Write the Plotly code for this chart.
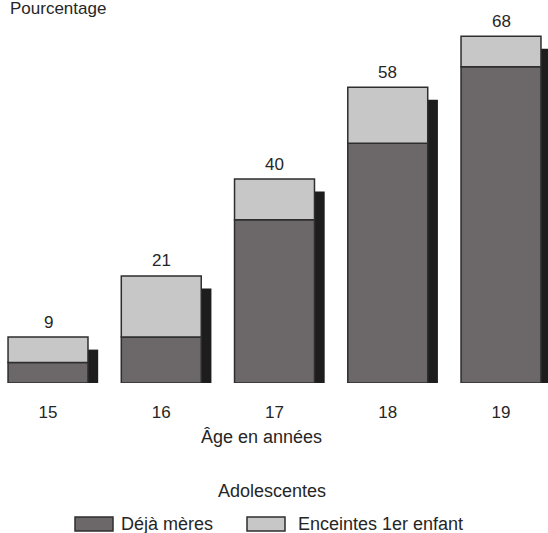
import plotly.graph_objects as go

# Pourcentage d'adolescentes déjà mères ou enceintes de leur premier enfant, par âge
ages = ["15", "16", "17", "18", "19"]
deja_meres = [4, 9, 32, 47, 62]
enceintes = [5, 12, 8, 11, 6]
totaux = [9, 21, 40, 58, 68]

FONT = "Liberation Sans, Arial, Helvetica, sans-serif"
TXT = "#262626"
C_MERES = "#6c6768"
C_ENC = "#c7c7c7"
C_OMBRE = "#1d1d1d"
C_BORD = "#2e2e2e"

BAR_W = 0.706
SHADOW_W = 0.10
SHADOW_DROP = 2.45

fig = go.Figure()

# drop shadow behind each column
fig.add_trace(go.Bar(
    x=ages, y=[t - SHADOW_DROP for t in totaux], base=0,
    width=SHADOW_W, offset=BAR_W / 2 - 0.01,
    marker=dict(color=C_OMBRE, line=dict(width=0)),
    hoverinfo="skip", showlegend=False,
))
fig.add_trace(go.Bar(
    x=ages, y=deja_meres, base=0, name="Déjà mères",
    width=BAR_W,
    marker=dict(color=C_MERES, line=dict(color=C_BORD, width=1.5)),
    showlegend=False,
))
fig.add_trace(go.Bar(
    x=ages, y=enceintes, base=deja_meres, name="Enceintes 1er enfant",
    width=BAR_W,
    marker=dict(color=C_ENC, line=dict(color=C_BORD, width=1.5)),
    showlegend=False,
))

# total value above each column (category index as x position)
annotations = []
for i, t in enumerate(totaux):
    annotations.append(dict(
        x=i, y=t, xref="x", yref="y", text=str(t), showarrow=False,
        yanchor="middle", yshift=15, font=dict(size=17, color=TXT, family=FONT),
    ))

W, H = 548, 533
TOP, BASE = 20, 383


def px(xp):
    return xp / W


def py(yp):
    return (BASE - yp) / (BASE - TOP)


annotations += [
    dict(x=px(8), y=py(8), xref="paper", yref="paper", text="Pourcentage",
         showarrow=False, xanchor="left", yanchor="middle",
         font=dict(size=17, color=TXT, family=FONT)),
    dict(x=px(261), y=py(437), xref="paper", yref="paper", text="Âge en années",
         showarrow=False, xanchor="center", yanchor="middle",
         font=dict(size=18, color=TXT, family=FONT)),
    dict(x=px(272), y=py(491), xref="paper", yref="paper", text="Adolescentes",
         showarrow=False, xanchor="center", yanchor="middle",
         font=dict(size=18, color=TXT, family=FONT)),
    dict(x=px(119), y=py(524), xref="paper", yref="paper", text="Déjà mères",
         showarrow=False, xanchor="left", yanchor="middle",
         font=dict(size=18, color=TXT, family=FONT)),
    dict(x=px(296), y=py(524), xref="paper", yref="paper", text="Enceintes 1er enfant",
         showarrow=False, xanchor="left", yanchor="middle",
         font=dict(size=18, color=TXT, family=FONT)),
]

shapes = [
    dict(type="rect", xref="paper", yref="paper",
         x0=px(75), x1=px(113), y0=py(531), y1=py(517),
         fillcolor=C_MERES, line=dict(color=C_BORD, width=1.5)),
    dict(type="rect", xref="paper", yref="paper",
         x0=px(247), x1=px(285), y0=py(531), y1=py(517),
         fillcolor=C_ENC, line=dict(color=C_BORD, width=1.5)),
]

fig.update_layout(
    width=W, height=H,
    margin=dict(l=0, r=0, t=TOP, b=H - BASE, pad=0),
    paper_bgcolor="white", plot_bgcolor="white",
    barmode="overlay",
    font=dict(family=FONT, color=TXT, size=17),
    annotations=annotations, shapes=shapes,
    xaxis=dict(
        type="category", categoryorder="array", categoryarray=ages,
        range=[-0.424, 4.415], showgrid=False, zeroline=False, showline=False,
        ticks="", ticklabelstandoff=17, tickfont=dict(size=17, color=TXT, family=FONT),
        fixedrange=True,
    ),
    yaxis=dict(
        range=[0, (BASE - TOP) / 5.1], visible=False, showgrid=False,
        zeroline=False, fixedrange=True,
    ),
    showlegend=False,
)

fig.write_html("out.html")
